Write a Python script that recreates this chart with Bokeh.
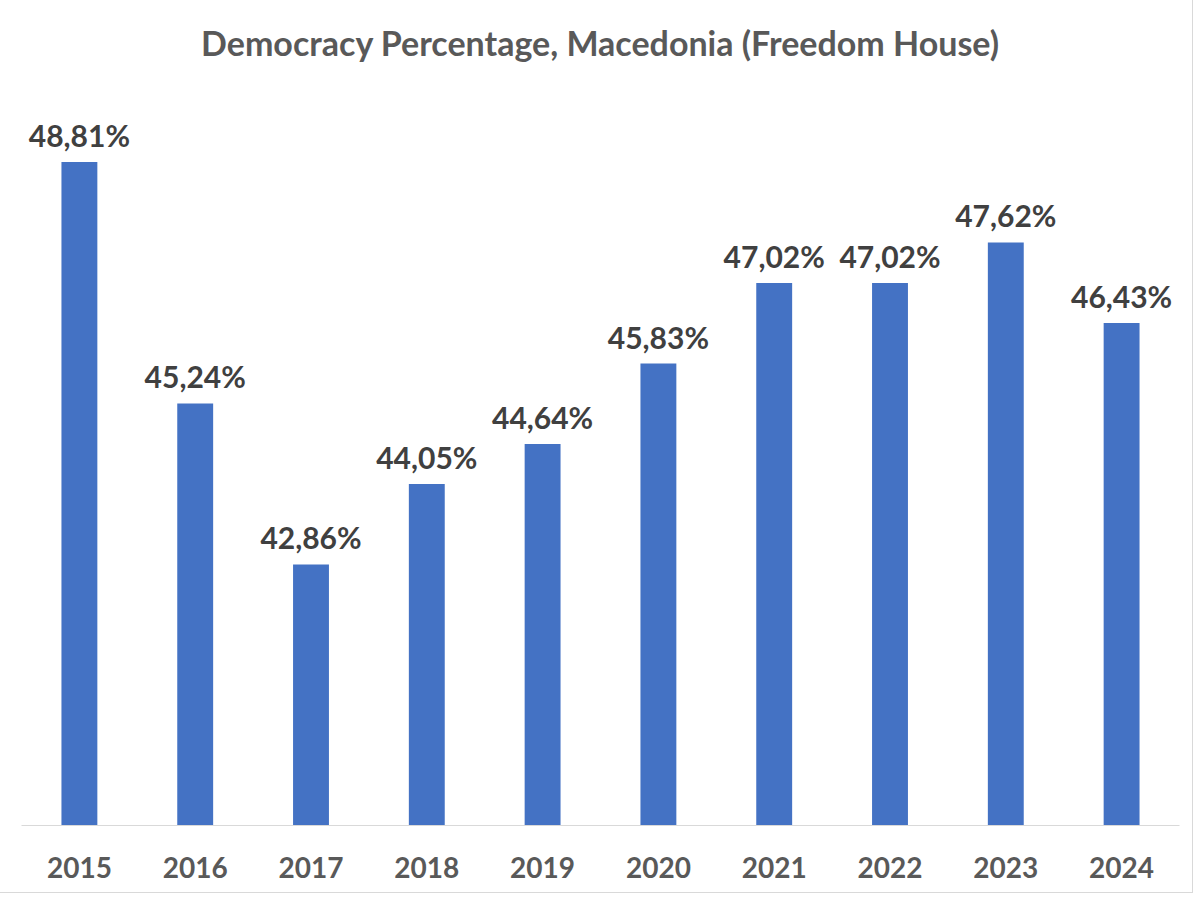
from bokeh.plotting import figure
from bokeh.models import ColumnDataSource, LabelSet, Range1d
from bokeh.core.properties import value
from bokeh.embed import file_html
from bokeh.resources import INLINE

years = ["2015", "2016", "2017", "2018", "2019", "2020", "2021", "2022", "2023", "2024"]
values = [48.81, 45.24, 42.86, 44.05, 44.64, 45.83, 47.02, 47.02, 47.62, 46.43]
labels = ["48,81%", "45,24%", "42,86%", "44,05%", "44,64%", "45,83%", "47,02%", "47,02%", "47,62%", "46,43%"]
title_text = "Democracy Percentage, Macedonia (Freedom House)"

FONT = "Lato"

src = ColumnDataSource(dict(years=years, values=values, labels=labels))

p = figure(x_range=years, y_range=Range1d(39, 50), width=1192, height=892,
           output_backend="svg", toolbar_location=None,
           min_border_left=21, min_border_right=13, min_border_top=80, min_border_bottom=67)

p.vbar(x="years", top="values", bottom=39, width=0.31, source=src,
       fill_color="#4472C4", line_color=None)

p.add_layout(LabelSet(x="years", y="values", text="labels", source=src,
                      text_align="center", text_baseline="alphabetic", y_offset=15,
                      text_font=value(FONT), text_font_style="bold", text_font_size="30px",
                      text_color="#404040"))

p.title.text = title_text
p.title.align = "center"
p.title.text_font = FONT
p.title.text_font_style = "bold"
p.title.text_font_size = "34px"
p.title.text_color = "#595959"
p.title.standoff = 38

p.yaxis.visible = False
p.xgrid.grid_line_color = None
p.ygrid.grid_line_color = None
p.outline_line_color = None

ax = p.xaxis[0]
ax.axis_line_color = "#d9d9d9"
ax.axis_line_width = 1
ax.major_tick_line_color = None
ax.minor_tick_line_color = None
ax.major_tick_out = 0
ax.major_tick_in = 0
ax.major_label_standoff = 31
ax.major_label_text_font = FONT
ax.major_label_text_font_style = "bold"
ax.major_label_text_font_size = "28px"
ax.major_label_text_color = "#595959"

p.styles = {"outline": "1px solid #d9d9d9"}

open("out.html", "w").write(file_html(p, INLINE))
